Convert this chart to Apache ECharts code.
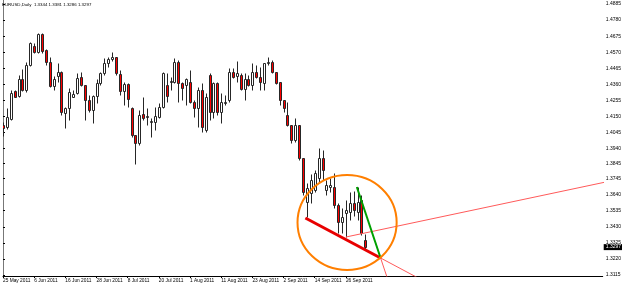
<!DOCTYPE html>
<html><head><meta charset="utf-8">
<script src="https://cdn.jsdelivr.net/npm/echarts@6/dist/echarts.min.js"></script>
<style>html,body{margin:0;padding:0;background:#fff}#c{width:625px;height:286px}</style>
</head><body><div id="c"></div><script>
const dates = ['25 May 2011','26 May 2011','27 May 2011','30 May 2011','31 May 2011','1 Jun 2011','2 Jun 2011','3 Jun 2011',
'6 Jun 2011','7 Jun 2011','8 Jun 2011','9 Jun 2011','10 Jun 2011','13 Jun 2011','14 Jun 2011','15 Jun 2011',
'16 Jun 2011','17 Jun 2011','20 Jun 2011','21 Jun 2011','22 Jun 2011','23 Jun 2011','24 Jun 2011','27 Jun 2011',
'28 Jun 2011','29 Jun 2011','30 Jun 2011','1 Jul 2011','4 Jul 2011','5 Jul 2011','6 Jul 2011','7 Jul 2011',
'8 Jul 2011','11 Jul 2011','12 Jul 2011','13 Jul 2011','14 Jul 2011','15 Jul 2011','18 Jul 2011','19 Jul 2011',
'20 Jul 2011','21 Jul 2011','22 Jul 2011','25 Jul 2011','26 Jul 2011','27 Jul 2011','28 Jul 2011','29 Jul 2011',
'1 Aug 2011','2 Aug 2011','3 Aug 2011','4 Aug 2011','5 Aug 2011','8 Aug 2011','9 Aug 2011','10 Aug 2011',
'11 Aug 2011','12 Aug 2011','15 Aug 2011','16 Aug 2011','17 Aug 2011','18 Aug 2011','19 Aug 2011','22 Aug 2011',
'23 Aug 2011','24 Aug 2011','25 Aug 2011','26 Aug 2011','29 Aug 2011','30 Aug 2011','31 Aug 2011','1 Sep 2011',
'2 Sep 2011','5 Sep 2011','6 Sep 2011','7 Sep 2011','8 Sep 2011','9 Sep 2011','12 Sep 2011','13 Sep 2011',
'14 Sep 2011','15 Sep 2011','16 Sep 2011','19 Sep 2011','20 Sep 2011','21 Sep 2011','22 Sep 2011','23 Sep 2011',
'26 Sep 2011','27 Sep 2011','28 Sep 2011','29 Sep 2011','30 Sep 2011','3 Oct 2011'];

const open = [1.4095,1.4080,1.4132,1.4319,1.4284,1.4393,1.4323,1.4487,
1.4611,1.4573,1.4689,1.4585,1.4508,1.4349,1.4415,1.4443,
1.4175,1.4206,1.4278,1.4304,1.4408,1.4356,1.4258,1.4193,
1.4284,1.4369,1.4434,1.4500,1.4526,1.4539,1.4428,1.4319,
1.4362,1.4206,1.4029,1.3977,1.4167,1.4147,1.4116,1.4116,
1.4149,1.4212,1.4356,1.4376,1.4378,1.4508,1.4369,1.4356,
1.4378,1.4247,1.4206,1.4323,1.4062,1.4421,1.4182,1.4371,
1.4182,1.4240,1.4258,1.4443,1.4415,1.4421,1.4330,1.4393,
1.4356,1.4443,1.4410,1.4371,1.4498,1.4508,1.4439,1.4378,
1.4258,1.4160,1.4095,1.3997,1.4095,1.3877,1.3592,1.3650,
1.3670,1.3749,1.3879,1.3670,1.3690,1.3690,1.3572,1.3461,
1.3520,1.3527,1.3585,1.3527,1.3605,1.3344];
const high = [1.4114,1.4206,1.4323,1.4323,1.4421,1.4458,1.4508,1.4639,
1.4628,1.4694,1.4694,1.4589,1.4541,1.4415,1.4500,1.4447,
1.4212,1.4336,1.4323,1.4434,1.4443,1.4356,1.4291,1.4291,
1.4395,1.4443,1.4532,1.4541,1.4573,1.4541,1.4454,1.4378,
1.4369,1.4212,1.4029,1.4193,1.4280,1.4206,1.4140,1.4214,
1.4238,1.4443,1.4434,1.4410,1.4532,1.4519,1.4378,1.4402,
1.4454,1.4258,1.4345,1.4369,1.4304,1.4432,1.4378,1.4378,
1.4302,1.4291,1.4465,1.4465,1.4515,1.4432,1.4432,1.4421,
1.4498,1.4487,1.4475,1.4498,1.4541,1.4519,1.4443,1.4378,
1.4258,1.4247,1.4095,1.4140,1.4095,1.3877,1.3716,1.3775,
1.3801,1.3945,1.3932,1.3736,1.3749,1.3781,1.3585,1.3553,
1.3605,1.3657,1.3665,1.3690,1.3638,1.3381];
const low = [1.4023,1.4069,1.4127,1.4276,1.4276,1.4319,1.4312,1.4480,
1.4563,1.4563,1.4563,1.4487,1.4345,1.4323,1.4376,1.4160,
1.4075,1.4127,1.4276,1.4297,1.4351,1.4127,1.4182,1.4108,
1.4238,1.4356,1.4421,1.4475,1.4515,1.4421,1.4291,1.4225,
1.4212,1.4018,1.3840,1.3964,1.4127,1.4095,1.4018,1.4062,
1.4140,1.4206,1.4247,1.4323,1.4369,1.4247,1.4258,1.4225,
1.4238,1.4149,1.4084,1.4051,1.4051,1.4127,1.4140,1.4160,
1.4106,1.4225,1.4247,1.4400,1.4378,1.4323,1.4258,1.4349,
1.4323,1.4402,1.4323,1.4323,1.4487,1.4432,1.4365,1.4225,
1.4182,1.4090,1.3975,1.3986,1.3866,1.3638,1.3494,1.3585,
1.3657,1.3716,1.3736,1.3638,1.3657,1.3553,1.3389,1.3389,
1.3363,1.3474,1.3500,1.3474,1.3376,1.3286];
const close = [1.4075,1.4145,1.4306,1.4280,1.4393,1.4323,1.4487,1.4632,
1.4573,1.4689,1.4580,1.4508,1.4349,1.4395,1.4443,1.4182,
1.4206,1.4312,1.4297,1.4402,1.4356,1.4258,1.4193,1.4284,
1.4369,1.4434,1.4500,1.4526,1.4539,1.4434,1.4319,1.4362,
1.4265,1.4029,1.3977,1.4160,1.4140,1.4154,1.4123,1.4154,
1.4214,1.4434,1.4284,1.4384,1.4508,1.4369,1.4336,1.4395,
1.4247,1.4206,1.4323,1.4084,1.4278,1.4182,1.4371,1.4182,
1.4247,1.4247,1.4443,1.4406,1.4432,1.4330,1.4393,1.4356,
1.4443,1.4410,1.4378,1.4498,1.4508,1.4439,1.4371,1.4258,
1.4204,1.4095,1.3997,1.4095,1.3877,1.3657,1.3683,1.3736,
1.3781,1.3879,1.3801,1.3703,1.3703,1.3572,1.3461,1.3494,
1.3540,1.3585,1.3540,1.3592,1.3389,1.3297];

const priceTicks = [1.4885,1.4780,1.4675,1.4570,1.4465,1.4360,1.4255,1.4150,1.4045,
1.3940,1.3845,1.3745,1.3640,1.3535,1.3430,1.3325,1.3220,1.3115];
const dateLabelStep = 8;
const titleText = 'EURUSD,Daily  1.3344 1.3381 1.3286 1.3297';
const lastPrice = 1.3297;

// hand-drawn objects (bar index, price)
const ellipseCenter = [88.3, 1.3458];
const ellipseRadius = [12.72, 0.0310];
const redTrend = [[77.6, 1.3487], [96.9, 1.3226]];
const redTrendRay = [[96.9, 1.3226], [120, 1.2913]];
const greenTrend = [[90.8, 1.3690], [96.9, 1.3226]];
const greenTrendRay = [[96.9, 1.3226], [100, 1.2990]];
const pinkRay = [[88, 1.3363], [160, 1.3751]];

const Y_MIN = 1.31084, Y_MAX = 1.49111;
const X_MAX = 153.9;
const FONT = 'Liberation Sans';

const labelIdx = [];
for (let i = 0; i < dates.length; i += dateLabelStep) labelIdx.push(i);

const candleData = dates.map((d, i) => [i, open[i], high[i], low[i], close[i]]);

function renderCandle(params, api) {
  const i = api.value(0), o = api.value(1), h = api.value(2), l = api.value(3), c = api.value(4);
  const pO = api.coord([i, o]), pH = api.coord([i, h]), pL = api.coord([i, l]), pC = api.coord([i, c]);
  const x = Math.round(pO[0]) + 0.5;
  const top = Math.round(Math.min(pO[1], pC[1])) + 0.5;
  const bot = Math.round(Math.max(pO[1], pC[1])) + 0.5;
  return {
    type: 'group',
    children: [
      { type: 'line', shape: { x1: x, y1: Math.round(pH[1]) + 0.5, x2: x, y2: Math.round(pL[1]) + 0.5 },
        style: { stroke: '#262626', lineWidth: 1 } },
      { type: 'rect', shape: { x: x - 1, y: top, width: 2, height: Math.max(bot - top, 0) },
        style: { fill: c < o ? '#FF0000' : '#FFFFFF', stroke: '#262626', lineWidth: 1 } }
    ]
  };
}

function renderEllipse(params, api) {
  const c = api.coord([api.value(0), api.value(1)]);
  const s = api.size([api.value(2), api.value(3)]);
  return { type: 'ellipse', shape: { cx: c[0], cy: c[1], rx: s[0], ry: s[1] },
    style: { fill: 'none', stroke: '#FF7F00', lineWidth: 2 } };
}

function lineSeries(data, color, width) {
  return { type: 'line', data: data, showSymbol: false, symbol: 'none', silent: true, clip: true,
    lineStyle: { color: color, width: width }, z: 5 };
}

const chart = echarts.init(document.getElementById('c'), null, { renderer: 'canvas' });
chart.setOption({
  animation: false,
  backgroundColor: '#fff',
  title: { text: titleText, left: 2, top: 3, padding: 0,
    textStyle: { fontSize: 4.4, fontWeight: 'normal', color: '#000', fontFamily: FONT } },
  grid: { left: 1, right: 19, top: 0, bottom: 10 },
  xAxis: {
    type: 'value', min: 0, max: X_MAX,
    axisLine: { show: true, onZero: false, lineStyle: { color: '#000', width: 1 } },
    axisTick: { show: true, length: 2, customValues: labelIdx, lineStyle: { color: '#000' } },
    splitLine: { show: false },
    axisLabel: { customValues: labelIdx, formatter: v => dates[v] || '', align: 'left', margin: 2,
      fontSize: 4.8, color: '#000', fontFamily: FONT }
  },
  yAxis: [
    { type: 'value', position: 'right', min: Y_MIN, max: Y_MAX, scale: true,
      axisLine: { show: true, lineStyle: { color: '#000', width: 1 } },
      axisTick: { show: true, length: 2, customValues: priceTicks, lineStyle: { color: '#000' } },
      splitLine: { show: false },
      axisLabel: { customValues: priceTicks, formatter: v => v.toFixed(4), margin: 3, fontSize: 5,
        color: '#000', fontFamily: FONT } },
    { type: 'value', position: 'right', min: Y_MIN, max: Y_MAX, scale: true,
      axisLine: { show: false }, axisTick: { show: false }, splitLine: { show: false },
      axisLabel: { customValues: [lastPrice], formatter: v => v.toFixed(4), margin: 1, fontSize: 5,
        color: '#fff', backgroundColor: '#000', padding: [1, 1, 0, 2], fontFamily: FONT } },
    { type: 'value', position: 'left', min: Y_MIN, max: Y_MAX, scale: true,
      axisLine: { show: true, lineStyle: { color: '#777', width: 1 } },
      axisTick: { show: false }, axisLabel: { show: false }, splitLine: { show: false } }
  ],
  series: [
    { type: 'custom', renderItem: renderCandle, data: candleData, encode: { x: 0, y: [1, 2, 3, 4] },
      clip: true, z: 2 },
    lineSeries(pinkRay, '#FF5A5A', 1),
    lineSeries(redTrendRay, '#FF5A5A', 1),
    lineSeries(greenTrendRay, '#FF5A5A', 1),
    lineSeries(redTrend, '#E80000', 3),
    lineSeries(greenTrend, '#00A000', 2),
    { type: 'custom', renderItem: renderEllipse, silent: true, z: 6,
      data: [[ellipseCenter[0], ellipseCenter[1], ellipseRadius[0], ellipseRadius[1]]],
      encode: { x: 0, y: 1 } }
  ]
});
</script></body></html>
